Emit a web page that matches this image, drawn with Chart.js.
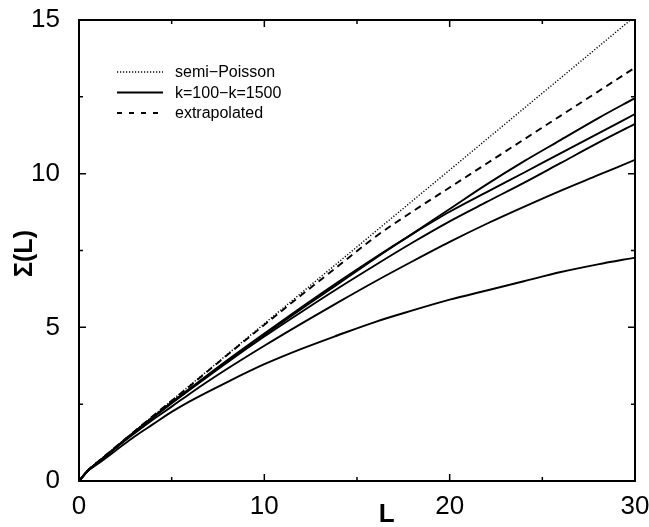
<!DOCTYPE html>
<html>
<head>
<meta charset="utf-8">
<script src="https://cdn.jsdelivr.net/npm/chart.js@4.4.1/dist/chart.umd.min.js"></script>
<style>
  html, body { margin: 0; padding: 0; background: #fff; }
  #wrap { width: 649px; height: 527px; }
</style>
</head>
<body>
<div id="wrap"><canvas id="sigmaChart"></canvas></div>
<script>
const Lvals = [0, 0.5, 1, 2, 3, 4, 5, 6, 8, 10, 12, 14, 16, 18, 20, 22, 24, 26, 28, 30];

// Sigma(L) readings
const semiPoisson  = [0, 0.36, 0.62, 1.12, 1.62, 2.12, 2.62, 3.12, 4.12, 5.12, 6.12, 7.12, 8.12, 9.12, 10.12, 11.12, 12.12, 13.12, 14.12, 15.12];
const extrapolated = [0, 0.36, 0.62, 1.12, 1.62, 2.12, 2.61, 3.10, 4.10, 5.08, 6.05, 7.00, 7.95, 8.77, 9.55, 10.33, 11.11, 11.89, 12.67, 13.45];
const kCurveA = [0, 0.35, 0.60, 1.10, 1.60, 2.08, 2.55, 3.00, 3.90, 4.75, 5.60, 6.42, 7.25, 8.05, 8.85, 9.65, 10.40, 11.10, 11.80, 12.46];
const kCurveB = [0, 0.35, 0.60, 1.10, 1.60, 2.08, 2.56, 3.02, 3.93, 4.80, 5.65, 6.48, 7.28, 8.04, 8.76, 9.40, 10.03, 10.67, 11.30, 11.94];
const kCurveC = [0, 0.35, 0.60, 1.10, 1.60, 2.07, 2.53, 2.98, 3.86, 4.70, 5.50, 6.28, 7.03, 7.76, 8.45, 9.08, 9.70, 10.35, 11.00, 11.62];
const kCurveD = [0, 0.35, 0.58, 1.08, 1.55, 2.00, 2.42, 2.85, 3.65, 4.40, 5.12, 5.82, 6.50, 7.15, 7.78, 8.37, 8.92, 9.45, 9.95, 10.45];
const kCurveE = [0, 0.34, 0.55, 1.00, 1.45, 1.85, 2.25, 2.60, 3.22, 3.80, 4.30, 4.75, 5.18, 5.55, 5.90, 6.20, 6.50, 6.80, 7.05, 7.27];

// axis ticks
const xMajorTicks = [0, 10, 20, 30];
const xMinorTicks = [5, 15, 25];
const yMajorTicks = [0, 5, 10, 15];
const yMinorTicks = [2.5, 7.5, 12.5];

const FONT = "'Liberation Sans', Arial, Helvetica, sans-serif";

function toPoints(values) {
    return Lvals.map((L, i) => ({ x: L, y: values[i] }));
}

function solid(values, label) {
    return {
        label: label,
        data: toPoints(values),
        borderColor: '#000',
        borderWidth: 1.9,
        pointRadius: 0,
        fill: false,
        cubicInterpolationMode: 'monotone'
    };
}

const datasets = [
    {
        label: 'semi\u2212Poisson',
        data: toPoints(semiPoisson),
        borderColor: '#000',
        borderWidth: 1.4,
        borderDash: [1.2, 1.8],
        pointRadius: 0,
        fill: false,
        cubicInterpolationMode: 'monotone'
    },
    {
        label: 'extrapolated',
        data: toPoints(extrapolated),
        borderColor: '#000',
        borderWidth: 1.9,
        borderDash: [7, 5],
        pointRadius: 0,
        fill: false,
        cubicInterpolationMode: 'monotone'
    },
    solid(kCurveA, 'k=100\u2212k=1500'),
    solid(kCurveB, ''),
    solid(kCurveC, ''),
    solid(kCurveD, ''),
    solid(kCurveE, '')
];

// legend rows: label + dash pattern of the sample line
const legendRows = [
    { text: 'semi\u2212Poisson', dash: [1.2, 1.8], width: 1.3 },
    { text: 'k=100\u2212k=1500', dash: [], width: 1.9 },
    { text: 'extrapolated', dash: [5, 7], width: 1.9 }
];

// frame, inward ticks, legend and axis titles
const framePlugin = {
    id: 'frame',
    afterDraw(chart) {
        const ctx = chart.ctx;
        const a = chart.chartArea;
        const xs = chart.scales.x, ys = chart.scales.y;
        ctx.save();
        ctx.strokeStyle = '#000';
        ctx.lineWidth = 2;
        ctx.setLineDash([]);
        ctx.strokeRect(a.left, a.top, a.right - a.left, a.bottom - a.top);

        ctx.lineWidth = 1.5;
        ctx.beginPath();
        const xt = (vals, len) => vals.forEach(v => {
            const px = xs.getPixelForValue(v);
            ctx.moveTo(px, a.bottom); ctx.lineTo(px, a.bottom - len);
            ctx.moveTo(px, a.top); ctx.lineTo(px, a.top + len);
        });
        const yt = (vals, len) => vals.forEach(v => {
            const py = ys.getPixelForValue(v);
            ctx.moveTo(a.left, py); ctx.lineTo(a.left + len, py);
            ctx.moveTo(a.right, py); ctx.lineTo(a.right - len, py);
        });
        xt(xMajorTicks, 7); xt(xMinorTicks, 4);
        yt(yMajorTicks, 7); yt(yMinorTicks, 4);
        ctx.stroke();

        // legend
        ctx.font = '16px ' + FONT;
        ctx.fillStyle = '#000';
        ctx.textBaseline = 'middle';
        ctx.textAlign = 'left';
        legendRows.forEach((row, i) => {
            const y = 72 + i * 20.5;
            ctx.beginPath();
            ctx.lineWidth = row.width;
            ctx.setLineDash(row.dash);
            ctx.moveTo(117, y);
            ctx.lineTo(163, y);
            ctx.stroke();
            ctx.fillText(row.text, 175, y + 1);
        });
        ctx.setLineDash([]);

        // axis titles
        ctx.font = 'bold 26px ' + FONT;
        ctx.textAlign = 'center';
        ctx.fillText('L', xs.getPixelForValue(16.6), 515);
        ctx.translate(25, (a.top + a.bottom) / 2 + 3);
        ctx.rotate(-Math.PI / 2);
        ctx.font = 'bold 25px ' + FONT;
        ctx.fillText('\u03A3(L)', 0, 0);
        ctx.restore();
    }
};

const ctx = document.getElementById('sigmaChart').getContext('2d');

const options = {
    responsive: true,
    maintainAspectRatio: false,
    animation: false,
    layout: { padding: { top: 20, right: 14, left: 0, bottom: 0 } },
    plugins: {
        legend: { display: false },
        tooltip: { enabled: false }
    },
    scales: {
        x: {
            type: 'linear',
            min: 0,
            max: 30,
            grid: { display: false, drawTicks: false },
            border: { display: false },
            ticks: {
                stepSize: 10,
                padding: 10,
                color: '#000',
                font: { size: 26, family: FONT }
            },
            afterFit(scale) {
                scale.height = 46;
                scale.paddingLeft = 0;
                scale.paddingRight = 0;
            }
        },
        y: {
            type: 'linear',
            min: 0,
            max: 15,
            grid: { display: false, drawTicks: false },
            border: { display: false },
            ticks: {
                stepSize: 5,
                padding: 19,
                color: '#000',
                font: { size: 26, family: FONT }
            },
            afterFit(scale) {
                scale.width = 79;
                scale.paddingTop = 0;
                scale.paddingBottom = 0;
            }
        }
    }
};

new Chart(ctx, {
    type: 'line',
    data: { datasets: datasets },
    options: options,
    plugins: [framePlugin]
});
</script>
</body>
</html>
